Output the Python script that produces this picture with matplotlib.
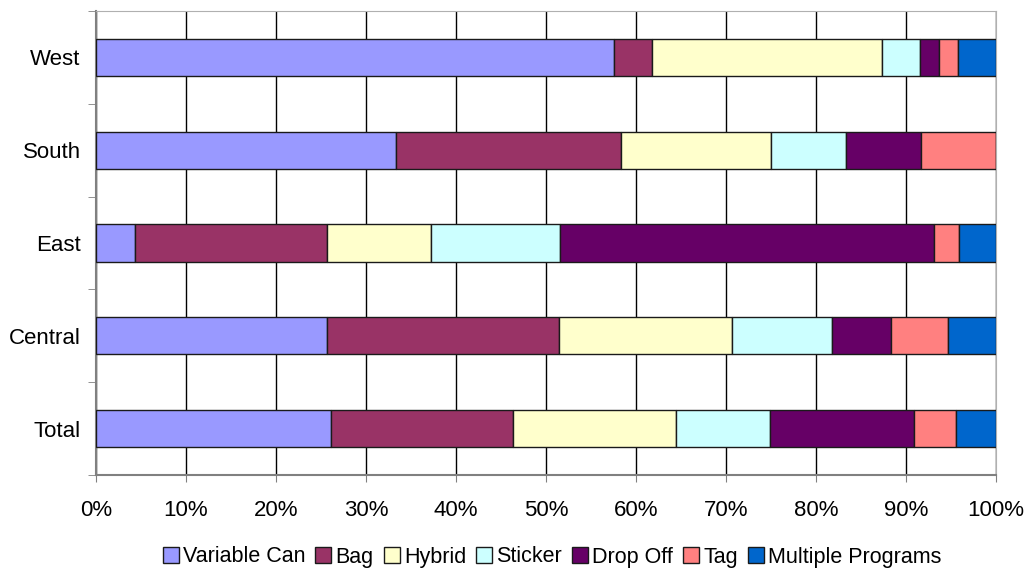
import numpy as np
import matplotlib.pyplot as plt
from matplotlib.ticker import PercentFormatter

plt.rcParams['font.family'] = ['Liberation Sans', 'DejaVu Sans']

# Regiones (de abajo hacia arriba) y porcentaje por programa
regions = ['Total', 'Central', 'East', 'South', 'West']
programs = ['Variable Can', 'Bag', 'Hybrid', 'Sticker', 'Drop Off', 'Tag', 'Multiple Programs']
colors = ['#9999FF', '#993366', '#FFFFCC', '#CCFFFF', '#660066', '#FF8080', '#0066CC']

variable_can = [26.1, 25.7, 4.3, 33.3, 57.5]
bag = [20.2, 25.7, 21.4, 25.0, 4.3]
hybrid = [18.1, 19.3, 11.5, 16.7, 25.5]
sticker = [10.5, 11.1, 14.3, 8.3, 4.3]
drop_off = [16.0, 6.5, 41.6, 8.4, 2.1]
tag = [4.7, 6.4, 2.8, 8.3, 2.1]
multiple = [4.4, 5.3, 4.1, 0.0, 4.2]

series = [variable_can, bag, hybrid, sticker, drop_off, tag, multiple]

fig = plt.figure(figsize=(10.28, 5.70), dpi=100)
ax = fig.add_axes([96 / 1028, 1 - 475 / 570, 900 / 1028, 464 / 570])

y = np.arange(len(regions))
left = np.zeros(len(regions))
for name, vals, col in zip(programs, series, colors):
    vals = np.array(vals)
    ax.barh(y, vals, left=left, height=0.4, color=col, edgecolor='#1a1a1a',
            linewidth=1.0, label=name, zorder=3)
    left += vals

ax.set_xlim(0, 100)
ax.set_ylim(-0.5, len(regions) - 0.5)
ax.set_xticks(np.arange(0, 101, 10))
ax.xaxis.set_major_formatter(PercentFormatter(decimals=0))
ax.set_yticks(y)
ax.set_yticklabels(regions)
ax.set_yticks(np.arange(-0.5, len(regions), 1), minor=True)
ax.tick_params(axis='y', which='major', length=0, labelsize=16, pad=11)
ax.tick_params(axis='y', which='minor', length=6, color='#808080')
ax.tick_params(axis='x', length=5, color='#808080', labelsize=16, pad=13)
ax.grid(axis='x', color='black', linewidth=1.0, zorder=0)

for side in ['left', 'bottom']:
    ax.spines[side].set_color('#808080')
    ax.spines[side].set_linewidth(1.5)
ax.spines['top'].set_color('#b0b0b0')
ax.spines['right'].set_color('#b0b0b0')

fig.legend(loc='center', bbox_to_anchor=(552 / 1028, 1 - 557 / 570), ncol=7,
           frameon=False, fontsize=15.5, handlelength=0.75, handleheight=0.75,
           handletextpad=0.2, columnspacing=0.45)

fig.savefig('out.png', dpi=100)
